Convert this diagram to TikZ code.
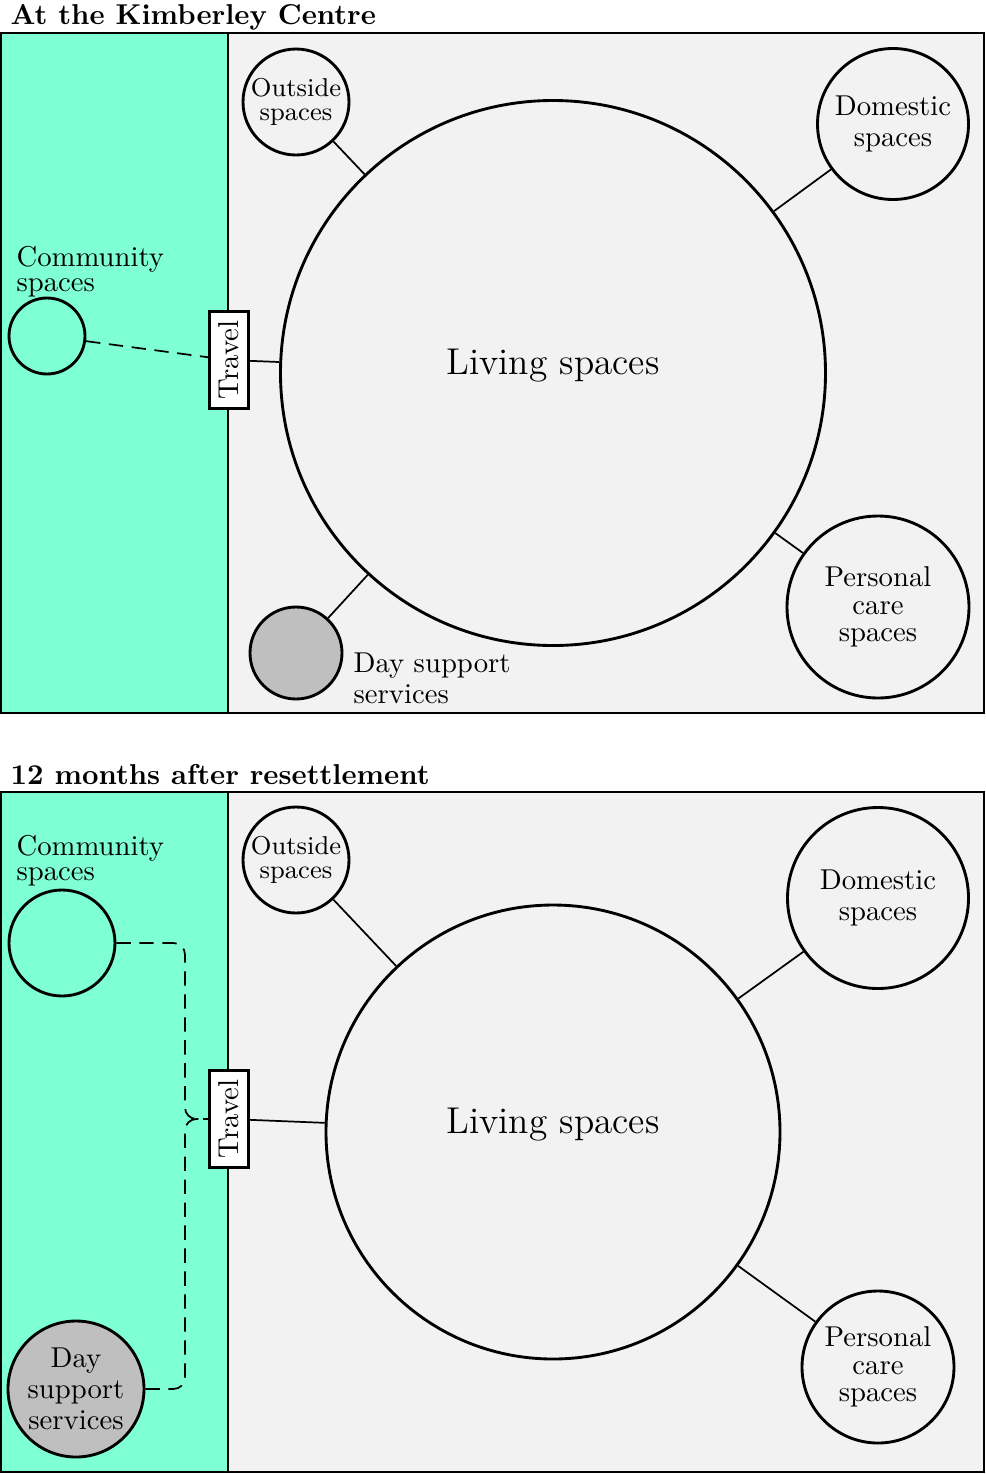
\documentclass[tikz,border=0pt]{standalone}
\definecolor{akva}{HTML}{7FFFD4}
\newdimen\pxu \pxu=0.3484pt
\begin{document}
\begin{tikzpicture}[x=0.3484pt, y=-0.3484pt]
			\tikzset{cirkel/.style={circle, line width=1pt, draw=black, inner sep=0, align=center},
				stor/.style={cirkel, font=\fontsize{13}{16}\selectfont, text depth=8pt},
				boks/.style={draw=black, line width=1pt, fill=white, rotate=90},
				forbind/.style={semithick},
				stiplet/.style={semithick, dash pattern=on 5pt off 3pt},
				tekst/.style={anchor=north west, align=left, inner sep=0}}

			\useasboundingbox (0,0) rectangle (985,1474);

			% At the Kimberley Centre
			\node[anchor=base west, inner sep=0, font=\bfseries] at (10,24) (titel1) {At the Kimberley Centre};
			\fill[akva] (1,33) rectangle (228,713);
			\fill[gray!10] (228,33) rectangle (984,713);
			\draw[semithick] (1,33) rectangle (984,713);
			\draw[semithick] (228,33) -- (228,713);

			\node[stor, minimum size=545\pxu] at (553,373) (bolig1) {Living spaces};
			\node[cirkel, minimum size=106\pxu, font=\fontsize{9}{8.4}\selectfont] at (296,102) (ude1) {Outside\\spaces};
			\node[cirkel, minimum size=151\pxu, font=\fontsize{10}{11}\selectfont] at (893,124) (hjem1) {Domestic\\spaces};
			\node[cirkel, minimum size=182\pxu, font=\fontsize{10}{9.6}\selectfont] at (878,607) (pleje1) {Personal\\care\\spaces};
			\node[cirkel, minimum size=92\pxu, fill=gray!50] at (296,653) (dag1) {};
			\node[tekst, font=\fontsize{10}{10.8}\selectfont] at (353,652) (dagtekst1) {Day support\\services};
			\node[cirkel, minimum size=76\pxu] at (47,336) (faelles1) {};
			\node[tekst, font=\fontsize{10}{8.5}\selectfont] at (16,246) (faellestekst1) {Community\\spaces};
			\node[boks] at (229,360) (rejse1) {Travel};

			\draw[forbind] (rejse1) -- (bolig1);
			\draw[forbind] (ude1) -- (bolig1);
			\draw[forbind] (hjem1) -- (bolig1);
			\draw[forbind] (pleje1) -- (bolig1);
			\draw[forbind] (dag1) -- (bolig1);
			\draw[stiplet] (faelles1) -- (rejse1);

			% 12 months after resettlement
			\node[anchor=base west, inner sep=0, font=\bfseries] at (10,784) (titel2) {12 months after resettlement};
			\fill[akva] (1,792) rectangle (228,1472);
			\fill[gray!10] (228,792) rectangle (984,1472);
			\draw[semithick] (1,792) rectangle (984,1472);
			\draw[semithick] (228,792) -- (228,1472);

			\node[stor, minimum size=454\pxu] at (553,1132) (bolig2) {Living spaces};
			\node[cirkel, minimum size=106\pxu, font=\fontsize{9}{8.4}\selectfont] at (296,860) (ude2) {Outside\\spaces};
			\node[cirkel, minimum size=181\pxu, font=\fontsize{10}{11}\selectfont] at (878,898) (hjem2) {Domestic\\spaces};
			\node[cirkel, minimum size=152\pxu, font=\fontsize{10}{9.6}\selectfont] at (878,1367) (pleje2) {Personal\\care\\spaces};
			\node[cirkel, minimum size=136\pxu, fill=gray!50, font=\fontsize{10}{10.8}\selectfont] at (76,1389) (dag2) {Day\\support\\services};
			\node[cirkel, minimum size=106\pxu] at (62,943) (faelles2) {};
			\node[tekst, font=\fontsize{10}{8.5}\selectfont] at (16,835) (faellestekst2) {Community\\spaces};
			\node[boks] at (229,1119) (rejse2) {Travel};
			\coordinate (knaek) at (185,1119);

			\draw[forbind] (rejse2) -- (bolig2);
			\draw[forbind] (ude2) -- (bolig2);
			\draw[forbind] (hjem2) -- (bolig2);
			\draw[forbind] (pleje2) -- (bolig2);
			\draw[stiplet, rounded corners=4pt] (faelles2) -| (knaek) -- (rejse2);
			\draw[stiplet, rounded corners=4pt] (dag2) -| (knaek) -- (rejse2);
		\end{tikzpicture}
\end{document}
